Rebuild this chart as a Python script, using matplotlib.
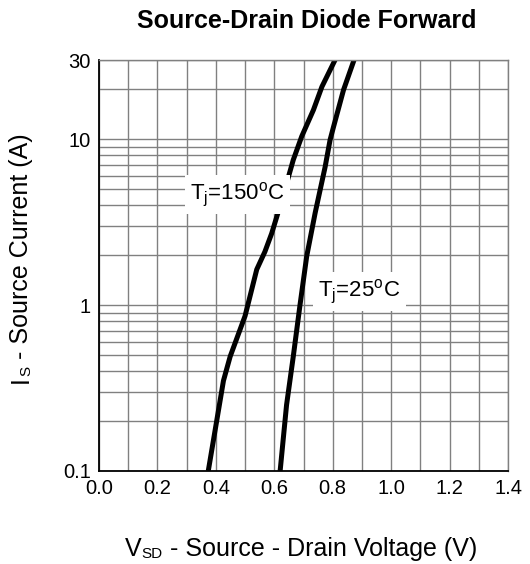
import matplotlib
matplotlib.use("Agg")
import matplotlib.pyplot as plt
from matplotlib.ticker import FixedLocator, NullFormatter

plt.rcParams['font.family'] = ['Liberation Sans', 'DejaVu Sans']
plt.rcParams['mathtext.fontset'] = 'custom'
plt.rcParams['mathtext.rm'] = 'Liberation Sans'
plt.rcParams['mathtext.it'] = 'Liberation Sans'

# curve: Vsd (V) vs Is (A)
v_150 = [0.374, 0.426, 0.449, 0.500, 0.540, 0.568, 0.591, 0.626, 0.665, 0.694, 0.734, 0.763, 0.808]
i_150 = [0.10, 0.35, 0.49, 0.86, 1.64, 2.1, 2.7, 4.3, 7.5, 10.4, 15.0, 20.7, 30.0]

v_25 = [0.620, 0.642, 0.665, 0.688, 0.711, 0.740, 0.774, 0.791, 0.803, 0.837, 0.873]
i_25 = [0.10, 0.25, 0.49, 1.0, 1.97, 3.6, 6.8, 9.9, 11.9, 19.8, 30.0]

x_ticks = [0.0, 0.2, 0.4, 0.6, 0.8, 1.0, 1.2, 1.4]
y_ticks = [0.1, 1, 10, 30]
y_tick_labels = ['0.1', '1', '10', '30']

W, H = 530, 564
fig = plt.figure(figsize=(W / 100, H / 100), dpi=100)
ax = fig.add_axes([99 / W, 1 - 471 / H, 409 / W, 411 / H])

ax.plot(v_150, i_150, color='black', lw=3.6, solid_capstyle='butt')
ax.plot(v_25, i_25, color='black', lw=3.6, solid_capstyle='butt')

ax.set_yscale('log')
ax.set_xlim(0, 1.4)
ax.set_ylim(0.1, 30)

ax.set_xticks(x_ticks)
ax.set_xticklabels([f'{t:.1f}' for t in x_ticks])
ax.xaxis.set_minor_locator(FixedLocator([0.1, 0.3, 0.5, 0.7, 0.9, 1.1, 1.3]))
ax.set_yticks(y_ticks)
ax.set_yticklabels(y_tick_labels)
minor_y = [m * d for d in (0.1, 1) for m in range(2, 10)] + [20]
ax.yaxis.set_minor_locator(FixedLocator(minor_y))
ax.yaxis.set_minor_formatter(NullFormatter())

ax.grid(True, which='both', color='#808080', lw=1.0)
ax.set_axisbelow(True)
ax.tick_params(which='both', length=0, labelsize=14.5, pad=6)

for side in ('top', 'right'):
    ax.spines[side].set_color('#808080')
    ax.spines[side].set_linewidth(1.0)
for side in ('left', 'bottom'):
    ax.spines[side].set_color('black')
    ax.spines[side].set_linewidth(1.3)

box = dict(facecolor='white', edgecolor='none', pad=4)
ax.text(0.312, 4.32, r'T$_{\rm j}$=150$^{\rm o}$C', fontsize=16,
        ha='left', va='baseline', bbox=box)
ax.text(0.750, 1.128, r'T$_{\rm j}$=25$^{\rm o}$C', fontsize=16,
        ha='left', va='baseline', bbox=box)

fig.text(307 / W, 1 - 27.5 / H, 'Source-Drain Diode Forward', fontsize=18,
         fontweight='bold', ha='center', va='baseline')

# x label: big "V", small "SD", then the rest
t1 = fig.text(125 / W, 1 - 561 / H, 'V', fontsize=18, ha='left', va='bottom')
t2 = ax.annotate('SD', xy=(1, 0), xycoords=t1, fontsize=11, ha='left', va='bottom',
                 annotation_clip=False)
ax.annotate(' - Source - Drain Voltage (V)', xy=(1, 0), xycoords=t2, fontsize=18,
            ha='left', va='bottom', annotation_clip=False)

# y label: rotated pieces stacked upward, aligned on the descent side
s1 = fig.text(33 / W, 1 - 383 / H, 'I', fontsize=18, rotation=90,
              ha='right', va='bottom')
s2 = ax.annotate('S', xy=(1, 1), xycoords=s1, fontsize=11, rotation=90,
                 ha='right', va='bottom', annotation_clip=False)
ax.annotate(' - Source Current (A)', xy=(1, 1), xycoords=s2, fontsize=18,
            rotation=90, ha='right', va='bottom', annotation_clip=False)

fig.savefig('out.png', dpi=100)
